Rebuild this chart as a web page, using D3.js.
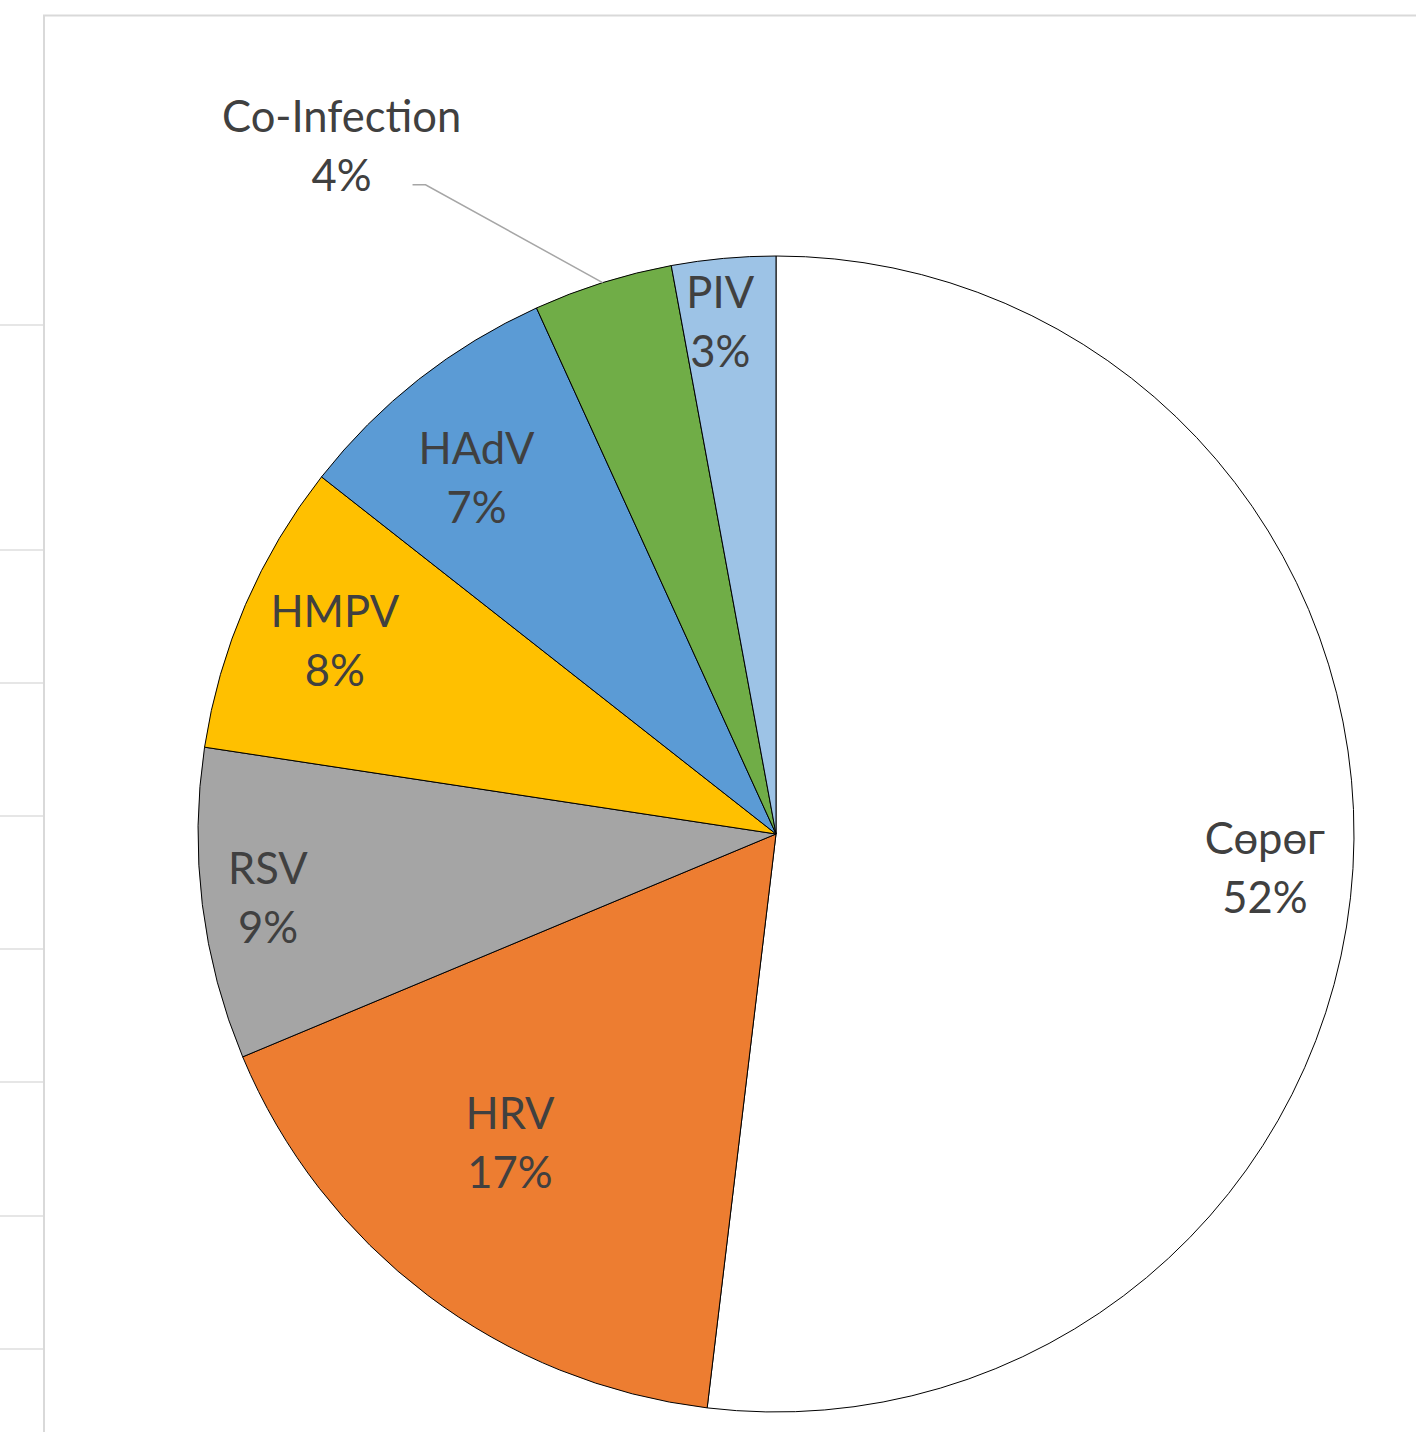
<!DOCTYPE html>
<html>
<head>
<meta charset="utf-8">
<script src="https://cdn.jsdelivr.net/npm/d3@7"></script>
<style>
  body { margin: 0; background: #fff; }
  svg { display: block; }
</style>
</head>
<body>
<div id="pie-chart"></div>
<script>
// data (share of cases, %)
const categories = ["Сөрөг", "HRV", "RSV", "HMPV", "HAdV", "Co-Infection", "PIV"];
const values = [51.9, 16.8, 8.7, 8.2, 7.6, 3.9, 2.9];
const percentLabels = ["52%", "17%", "9%", "8%", "7%", "4%", "3%"];
const sliceColors = ["#ffffff", "#ed7d31", "#a5a5a5", "#ffc000", "#5b9bd5", "#70ad47", "#9dc3e6"];

// spreadsheet gridlines on the left, behind the chart
const sheetRows = [325, 550, 683, 816, 949, 1082, 1216, 1349];

const renderPie = () => {
  const width = 1416;
  const height = 1432;
  const cx = 776;
  const cy = 834;
  const radius = 578;

  const svg = d3
    .select("#pie-chart")
    .append("svg")
    .attr("width", width)
    .attr("height", height);

  // sheet cells + chart frame
  svg
    .append("g")
    .selectAll("line")
    .data(sheetRows)
    .join("line")
    .attr("x1", 0)
    .attr("x2", 44)
    .attr("y1", (d) => d)
    .attr("y2", (d) => d)
    .attr("stroke", "#dedede")
    .attr("stroke-width", 1.5);

  svg
    .append("path")
    .attr("d", `M44,${height} V15.5 H${width}`)
    .attr("fill", "none")
    .attr("stroke", "#d9d9d9")
    .attr("stroke-width", 2);

  const data = categories.map((name, i) => ({
    name,
    value: values[i],
    label: percentLabels[i],
    color: sliceColors[i],
  }));

  const pie = d3.pie().sort(null).value((d) => d.value);
  const arcs = pie(data);

  const arc = d3.arc().innerRadius(0).outerRadius(radius);

  const g = svg.append("g").attr("transform", `translate(${cx}, ${cy})`);

  g.selectAll("path")
    .data(arcs)
    .join("path")
    .attr("d", arc)
    .attr("fill", (d) => d.data.color)
    .attr("stroke", "#000")
    .attr("stroke-width", 1)
    .attr("stroke-linejoin", "round");

  // label placement like excel "best fit": [fraction of radius, degrees off the slice middle]
  const labelPlace = {
    "Сөрөг": [0.848, 0.6],
    HRV: [0.706, 3.6],
    RSV: [0.886, -0.2],
    HMPV: [0.833, 0.2],
    HAdV: [0.805, -1.9],
    "Co-Infection": [1.408, -14.8],
    PIV: [0.891, -1.0],
  };

  const rad = Math.PI / 180;
  const polar = (angle, r) => [Math.sin(angle) * r, -Math.cos(angle) * r];
  const midAngle = (d) => (d.startAngle + d.endAngle) / 2;
  const lineHeight = 59;

  const labels = g
    .append("g")
    .attr("font-family", "Lato, 'Open Sans', sans-serif")
    .attr("font-size", 43.5)
    .attr("fill", "#404040")
    .attr("text-anchor", "middle");

  arcs.forEach((d) => {
    const a = midAngle(d);
    if (d.data.name === "Co-Infection") {
      // outside label with a leader line
      const start = polar(a, radius);
      const elbow = polar(a - 10.9 * rad, radius * 1.2765);
      g.append("polyline")
        .attr("points", [start, elbow, [elbow[0] - 13, elbow[1]]].map((p) => p.join(",")).join(" "))
        .attr("fill", "none")
        .attr("stroke", "#a6a6a6")
        .attr("stroke-width", 1.5);
    }
    const [frac, off] = labelPlace[d.data.name];
    const [x, y] = polar(a + off * rad, radius * frac);
    const t = labels.append("text").attr("transform", `translate(${x}, ${y})`);
    t.append("tspan").attr("x", 0).attr("y", -14).text(d.data.name);
    t.append("tspan").attr("x", 0).attr("y", -14 + lineHeight).text(d.data.label);
  });
};

renderPie();
</script>
</body>
</html>
